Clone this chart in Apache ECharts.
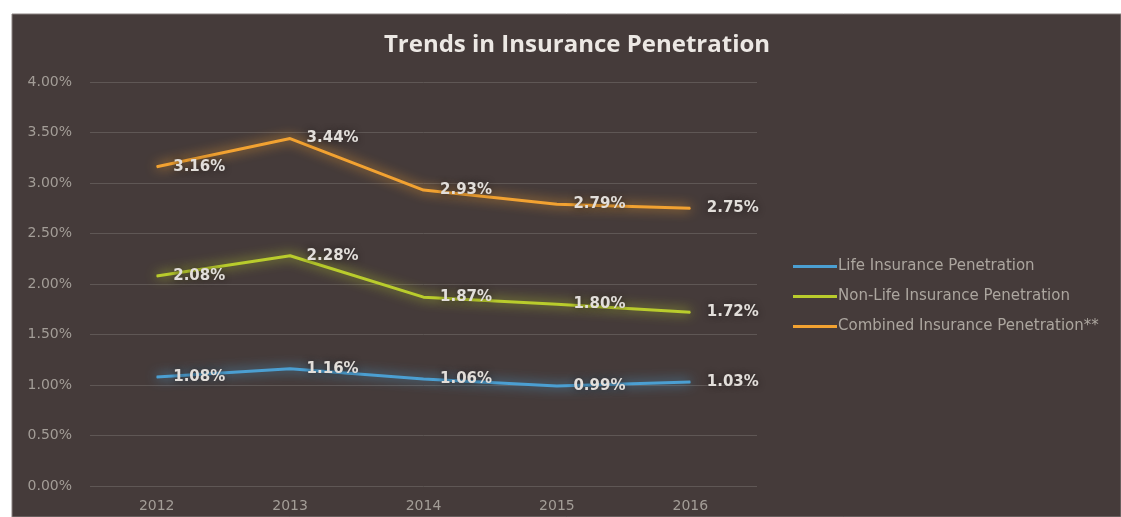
<!DOCTYPE html>
<html>
<head>
<meta charset="utf-8">
<style>
  html, body { margin: 0; padding: 0; background: #ffffff; }
  #chart { width: 1121px; height: 517px; }
</style>
<script src="https://cdn.jsdelivr.net/npm/echarts@6/dist/echarts.min.js"></script>
</head>
<body>
<div id="chart"></div>
<script>
// Years on the category axis
const years = ['2012', '2013', '2014', '2015', '2016'];
// Penetration rates, in percent
const lifePenetration = [1.08, 1.16, 1.06, 0.99, 1.03];
const nonLifePenetration = [2.08, 2.28, 1.87, 1.80, 1.72];
const combinedPenetration = [3.16, 3.44, 2.93, 2.79, 2.75];
const seriesNames = ['Life Insurance Penetration', 'Non-Life Insurance Penetration', 'Combined Insurance Penetration**'];

const titleFont = '"Open Sans", sans-serif';
const bodyFont = '"DejaVu Sans", sans-serif';
const panelColor = '#453b3a';

function lineSeries(name, data, color) {
  return {
    name: name,
    type: 'line',
    data: data,
    symbol: 'circle',
    symbolSize: 1,
    showSymbol: true,
    itemStyle: { color: color },
    lineStyle: {
      color: color,
      width: 3,
      shadowColor: color,
      shadowBlur: 12
    },
    label: {
      show: true,
      position: 'right',
      distance: 16,
      color: '#e2deda',
      fontFamily: bodyFont,
      fontSize: 15,
      fontWeight: 'bold',
      textShadowColor: 'rgba(30,25,25,0.8)',
      textShadowBlur: 6,
      formatter: p => p.value.toFixed(2) + '%'
    },
    emphasis: { disabled: true }
  };
}

const chart = echarts.init(document.getElementById('chart'), null, { renderer: 'canvas' });
chart.setOption({
  animation: false,
  backgroundColor: 'transparent',
  graphic: [
    {
      type: 'rect',
      z: -10,
      shape: { x: 12, y: 14, width: 1109, height: 503 },
      style: { fill: panelColor, stroke: '#8a8280', lineWidth: 1 }
    }
  ],
  title: {
    text: 'Trends in Insurance Penetration',
    left: 572,
    textAlign: 'center',
    top: 28,
    textStyle: { color: '#ece8e4', fontFamily: titleFont, fontSize: 24, fontWeight: 'bold' }
  },
  legend: {
    orient: 'vertical',
    left: 788,
    top: 254,
    itemWidth: 44,
    itemHeight: 3,
    itemGap: 15,
    icon: 'rect',
    data: seriesNames,
    textStyle: { color: '#aca69f', fontFamily: bodyFont, fontSize: 15, padding: [0, 0, 0, -4] }
  },
  grid: { left: 90, right: 364, top: 82, bottom: 31, containLabel: false },
  xAxis: {
    type: 'category',
    data: years,
    boundaryGap: true,
    axisLine: { show: false },
    axisTick: { show: false },
    axisLabel: { color: '#a39d97', fontFamily: bodyFont, fontSize: 14, margin: 13 }
  },
  yAxis: {
    type: 'value',
    min: 0,
    max: 4,
    interval: 0.5,
    axisLine: { show: false },
    axisTick: { show: false },
    splitLine: { lineStyle: { color: '#5f5755', width: 1 } },
    axisLabel: {
      color: '#a39d97',
      fontFamily: bodyFont,
      fontSize: 14,
      margin: 18,
      formatter: v => v.toFixed(2) + '%'
    }
  },
  series: [
    lineSeries(seriesNames[0], lifePenetration, '#4b9fd2'),
    lineSeries(seriesNames[1], nonLifePenetration, '#b9cc2c'),
    lineSeries(seriesNames[2], combinedPenetration, '#f2a231')
  ]
});
</script>
</body>
</html>
